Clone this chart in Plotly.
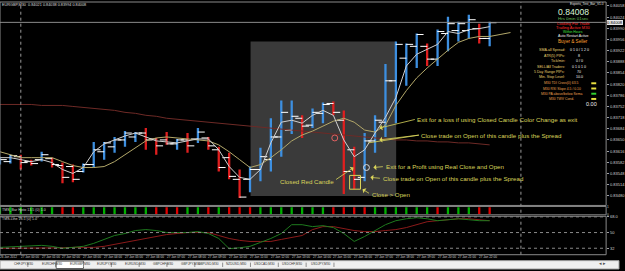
import plotly.graph_objects as go
import numpy as np

W, H = 625, 271

# ---------------- data ----------------
candle_idx = list(range(-2, 46))  # M30 bars, 0 = 27 Jan 00:00
opens = [0.83581,0.83584,0.83599,0.83584,0.83590,0.83593,0.83572,0.83569,0.83554,0.83575,
         0.83614,0.83629,0.83650,0.83659,0.83671,0.83653,0.83650,0.83638,0.83650,0.83653,
         0.83656,0.83620,0.83596,0.83530,0.83530,0.83560,0.83590,0.83659,0.83680,0.83716,
         0.83695,0.83731,0.83761,0.83710,0.83620,0.83536,0.83647,0.83704,0.83830,0.83899,
         0.83935,0.83935,0.83896,0.83974,0.83983,0.83983,0.83989,0.83959]
highs = [0.83599,0.83605,0.83605,0.83590,0.83614,0.83596,0.83581,0.83575,0.83578,0.83644,
         0.83644,0.83659,0.83677,0.83674,0.83686,0.83656,0.83674,0.83653,0.83671,0.83686,
         0.83659,0.83629,0.83611,0.83560,0.83569,0.83626,0.83716,0.83770,0.83770,0.83725,
         0.83746,0.83764,0.83767,0.83740,0.83629,0.83671,0.83725,0.83881,0.83950,0.83944,
         0.83974,0.83944,0.83986,0.84025,0.84010,0.84031,0.84004,0.84010]
lows = [0.83575,0.83578,0.83560,0.83572,0.83584,0.83566,0.83518,0.83521,0.83551,0.83566,
        0.83590,0.83611,0.83629,0.83644,0.83620,0.83605,0.83635,0.83620,0.83611,0.83641,
        0.83620,0.83554,0.83530,0.83473,0.83491,0.83524,0.83554,0.83599,0.83668,0.83656,
        0.83686,0.83701,0.83725,0.83485,0.83500,0.83524,0.83611,0.83659,0.83701,0.83815,
        0.83869,0.83875,0.83875,0.83920,0.83950,0.83959,0.83944,0.83935]
closes = [0.83590,0.83602,0.83581,0.83578,0.83605,0.83575,0.83536,0.83530,0.83575,0.83620,
          0.83641,0.83650,0.83671,0.83671,0.83650,0.83632,0.83638,0.83650,0.83632,0.83674,
          0.83632,0.83566,0.83539,0.83476,0.83560,0.83599,0.83659,0.83734,0.83722,0.83692,
          0.83734,0.83758,0.83734,0.83554,0.83530,0.83647,0.83710,0.83830,0.83941,0.83941,
          0.83971,0.83896,0.83980,0.84004,0.84004,0.84016,0.83959,0.84007]
ma_fast = [0.83596,0.83596,0.83590,0.83584,0.83590,0.83581,0.83560,0.83548,0.83566,0.83614,
           0.83638,0.83650,0.83662,0.83671,0.83659,0.83647,0.83644,0.83641,0.83647,0.83653,
           0.83653,0.83620,0.83569,0.83536,0.83530,0.83560,0.83641,0.83704,0.83710,0.83701,
           0.83725,0.83740,0.83725,0.83650,0.83599,0.83620,0.83671,0.83719,0.83779,0.83875,
           0.83911,0.83926,0.83941,0.83980,0.83974,0.83986,0.83989,0.83995]
ma_slow_idx = list(range(-2, 48))  # shifted forward 2 bars
ma_slow = [0.83614,0.83605,0.83596,0.83596,0.83596,0.83596,0.83584,0.83572,0.83566,0.83566,
           0.83569,0.83584,0.83605,0.83626,0.83647,0.83656,0.83659,0.83656,0.83653,0.83650,
           0.83647,0.83635,0.83614,0.83590,0.83566,0.83575,0.83596,0.83620,0.83647,0.83665,
           0.83677,0.83692,0.83707,0.83716,0.83704,0.83680,0.83674,0.83695,0.83755,0.83800,
           0.83839,0.83869,0.83896,0.83923,0.83947,0.83959,0.83965,0.83965,0.83971,0.83977]
ma_long = [0.83758,0.83758,0.83758,0.83758,0.83755,0.83755,0.83755,0.83752,0.83749,0.83746,
           0.83743,0.83740,0.83734,0.83731,0.83725,0.83722,0.83716,0.83713,0.83710,0.83707,
           0.83704,0.83701,0.83698,0.83695,0.83692,0.83689,0.83686,0.83683,0.83680,0.83677,
           0.83674,0.83671,0.83668,0.83665,0.83662,0.83659,0.83656,0.83653,0.83650,0.83650,
           0.83647,0.83647,0.83644,0.83644,0.83641,0.83641,0.83638,0.83635]
bar_state = [1,1,1,1,1,1,-1,-1,1,1,1,1,1,1,1,-1,-1,-1,1,1,-1,1,-1,-1,-1,
             1,1,1,1,1,1,1,-1,-1,-1,-1,1,1,1,1,1,1,-1,1,1,1,-1,-1]
osc_green = [33.0,33.6,34.2,34.2,35.3,34.2,31.9,33.0,34.2,37.6,42.1,46.6,48.9,52.3,53.4,52.3,
             50.0,50.0,50.0,51.1,48.9,43.2,31.5,32.5,34.2,38.7,43.2,48.9,59.0,59.0,56.8,57.9,
             55.7,48.9,39.8,45.5,52.3,59.0,63.6,65.8,67.0,65.8,63.6,64.7,65.8,64.7,63.6,63.6]
osc_red = [31.9,31.9,31.9,31.9,31.9,32.5,32.5,33.0,33.0,33.0,34.2,36.4,38.7,41.0,43.2,45.5,
           47.7,48.9,50.0,50.0,50.0,46.6,43.2,41.0,39.8,39.8,39.8,42.1,44.4,46.6,53.4,56.8,
           56.8,54.5,52.3,51.1,51.1,52.3,53.4,55.7,59.0,62.4,63.6,64.7,65.8,65.8,64.7,63.6]
price_ticks = [0.84058,0.84024,0.83990,0.83956,0.83922,0.83888,0.83854,0.83820,0.83786,
               0.83752,0.83718,0.83684,0.83650,0.83616,0.83582,0.83548,0.83514,0.83480]
osc_levels = [68, 50, 32]
bid = 0.84008
time_label_idx = [-2] + list(range(0, 46, 2))
time_labels = ["26 Jan 2012"] + ["27 Jan %02d:00" % h for h in range(0, 23)]
tabs = ["CHFJPY,M30", "EURCHF,M30", "EURGBP,M30", "EURJPY,M30", "EURUSD,M30", "GBPCHF,M30",
        "GBPJPY,M30", "GBPUSD,M30", "NZDUSD,M30", "USDCAD,M30", "USDCHF,M30", "USDJPY,M30"]
active_tab = "EURGBP,M30"

# ---------------- geometry helpers ----------------
X0_PX, BAR_PX = 21.0, 10.52
AX_RIGHT = 612.0
PRICE_TOP, PRICE_PER_PX = 0.84070, 0.00003
def xk(px): return (px - X0_PX) / BAR_PX
def yp(py): return PRICE_TOP - PRICE_PER_PX * py
def pxf(px): return px / W
def pyf(py): return 1 - py / H

MAIN = (0.0, 206.5)
STRIP = (207.5, 216.0)
OSC = (217.5, 256.5)
OSC_K = 1.13  # value per pixel
def osc_at(py): return 50 + (234 - py) * OSC_K

xr = [xk(0), xk(AX_RIGHT)]
FONT = "Liberation Sans, Arial, sans-serif"
YEL = "#d9d45a"

fig = go.Figure()

# candles
up = [c >= o for o, c in zip(opens, closes)]
colors = ["#3d8fe0" if u else "#e01f1f" for u in up]
fig.add_trace(go.Bar(x=candle_idx, y=[h - l for h, l in zip(highs, lows)], base=lows,
                     width=0.22, marker=dict(color=colors, line=dict(width=0)),
                     xaxis="x", yaxis="y", hoverinfo="skip"))
fig.add_trace(go.Scatter(x=[k - 0.32 for k in candle_idx], y=opens, mode="markers",
                         marker=dict(symbol="line-ew", size=5, line=dict(color="white", width=1)),
                         xaxis="x", yaxis="y", hoverinfo="skip"))
fig.add_trace(go.Scatter(x=[k + 0.32 for k in candle_idx], y=closes, mode="markers",
                         marker=dict(symbol="line-ew", size=5, line=dict(color="white", width=1)),
                         xaxis="x", yaxis="y", hoverinfo="skip"))
# moving averages
fig.add_trace(go.Scatter(x=candle_idx, y=ma_long, mode="lines",
                         line=dict(color="#6e2a26", width=1), xaxis="x", yaxis="y"))
fig.add_trace(go.Scatter(x=ma_slow_idx, y=ma_slow, mode="lines",
                         line=dict(color="#b3a86a", width=1), xaxis="x", yaxis="y"))
fig.add_trace(go.Scatter(x=candle_idx, y=ma_fast, mode="lines",
                         line=dict(color="#d0d0d0", width=1), xaxis="x", yaxis="y"))

# histogram strip
fig.add_trace(go.Bar(x=candle_idx, y=[0.8] * len(candle_idx), base=0.1, width=0.22,
                     marker=dict(color=["#00b000" if s > 0 else "#e00000" for s in bar_state],
                                 line=dict(width=0)),
                     xaxis="x2", yaxis="y2", hoverinfo="skip"))
# oscillator
fig.add_trace(go.Scatter(x=candle_idx, y=osc_red, mode="lines",
                         line=dict(color="#8b1a1a", width=1), xaxis="x3", yaxis="y3"))
fig.add_trace(go.Scatter(x=candle_idx, y=osc_green, mode="lines",
                         line=dict(color="#1e7a1e", width=1), xaxis="x3", yaxis="y3"))

shapes = []
annots = []
# grey highlight rectangle
shapes.append(dict(type="rect", xref="x", yref="y", x0=xk(253), x1=xk(400), y0=yp(197), y1=yp(40),
                   fillcolor="#3a3a3a", line=dict(width=0), layer="below"))
# bid line
shapes.append(dict(type="line", xref="paper", yref="y", x0=0, x1=pxf(AX_RIGHT), y0=bid, y1=bid,
                   line=dict(color="#8a8a8a", width=1)))
# period separators
for k in [0, 48]:
    shapes.append(dict(type="line", xref="x", yref="paper", x0=k, x1=k, y0=pyf(OSC[1]), y1=1,
                       line=dict(color="#9a9a9a", width=1, dash="dot")))
# panel frames
for top, bot in [MAIN, STRIP, OSC]:
    shapes.append(dict(type="rect", xref="paper", yref="paper", x0=0, x1=pxf(AX_RIGHT),
                       y0=pyf(bot), y1=pyf(top), line=dict(color="#8a8a8a", width=1)))
# osc level lines
for lv in osc_levels:
    shapes.append(dict(type="line", xref="paper", yref="y3", x0=0, x1=pxf(AX_RIGHT), y0=lv, y1=lv,
                       line=dict(color="#8a8a8a", width=1, dash="dot")))
# yellow box around candle
shapes.append(dict(type="rect", xref="x", yref="y", x0=xk(353), x1=xk(364), y0=yp(190), y1=yp(176),
                   line=dict(color=YEL, width=1)))
# circles
shapes.append(dict(type="circle", xref="x", yref="y", x0=xk(335), x1=xk(341), y0=yp(141), y1=yp(135),
                   line=dict(color="#e06060", width=1)))
shapes.append(dict(type="circle", xref="x", yref="y", x0=xk(367), x1=xk(373), y0=yp(171), y1=yp(165),
                   line=dict(color="#dddddd", width=1)))
# tab bar
shapes.append(dict(type="rect", xref="paper", yref="paper", x0=0, x1=1, y0=0, y1=pyf(262.5),
                   fillcolor="#efefef", line=dict(color="#a0a0a0", width=1)))
tab_w = 28.1
for i, t in enumerate(tabs):
    x0 = i * tab_w
    if t == active_tab:
        shapes.append(dict(type="rect", xref="paper", yref="paper", x0=pxf(x0 + 0.5), x1=pxf(x0 + tab_w),
                           y0=pyf(270.5), y1=pyf(263), fillcolor="white",
                           line=dict(color="#606060", width=1)))
    shapes.append(dict(type="line", xref="paper", yref="paper", x0=pxf(x0 + tab_w), x1=pxf(x0 + tab_w),
                       y0=pyf(269), y1=pyf(264.5), line=dict(color="#909090", width=1)))
    annots.append(dict(x=pxf(x0 + tab_w / 2), y=pyf(267.6), xref="paper", yref="paper", text=t,
                       showarrow=False, borderpad=0, borderwidth=0,
                       font=dict(size=3.2, color="#303030", family=FONT)))
annots.append(dict(x=pxf(612), y=pyf(267.6), xref="paper", yref="paper", text="◂ ▸",
                   showarrow=False, borderpad=0, borderwidth=0,
                   font=dict(size=4.5, color="#505050", family=FONT)))

def txt(px, py, s, size=5, color="#e0e0e0", anchor="left", **kw):
    annots.append(dict(x=pxf(px), y=pyf(py), xref="paper", yref="paper", text=s, showarrow=False,
                       xanchor=anchor, yanchor="middle", borderpad=0, borderwidth=0,
                       font=dict(size=size, color=color, family=FONT), **kw))

def arrow(hx, hy, tx, ty, head=True):
    annots.append(dict(x=pxf(hx), y=pyf(hy), xref="paper", yref="paper", ax=tx - hx, ay=ty - hy,
                       axref="pixel", ayref="pixel", text="", showarrow=True,
                       arrowhead=1 if head else 0, arrowsize=1.2, arrowwidth=0.8, arrowcolor=YEL))

# header
txt(2, 3.5, "EURGBP,M30  0.84021 0.84038 0.83994 0.84008", size=3.8, color="#dcdcdc")
# chart notes
txt(421, 119, "Exit for a loss if using Closed Candle Color Change as exit", size=6.2, color=YEL)
txt(425, 135, "Close trade on Open of this candle plus the Spread", size=6.2, color=YEL)
txt(390, 167, "Exit for a Profit using Real Close and Open", size=6.2, color=YEL)
txt(387, 179, "Close trade on Open of this candle plus the Spread", size=6.2, color=YEL)
txt(376, 195, "Close > Open", size=6.2, color=YEL)
txt(283, 182, "Closed Red Candle", size=6.2, color=YEL)
arrow(383, 128, 420, 119)
arrow(383, 140, 424, 135)
arrow(372, 143, 424, 135, head=False)
arrow(377, 168, 388, 167)
arrow(374, 178, 385, 179)
arrow(366, 190, 374, 195)
arrow(357, 168, 338, 181)

# right info panel
txt(593, 2.2, "Experts_Test_Bar_V1.0", size=3.2, color="#e0e0e0", anchor="center")
txt(579, 9.7, "0.84008", size=8.6, color="#d8f5d8", anchor="center")
txt(579, 17.2, "Hrs 0min 01sec", size=4.4, color="#66bb55", anchor="center")
txt(579, 21.9, "Looking For Trade", size=4.0, color="#ff2a2a", anchor="center")
txt(579, 26.1, "Trailing Active M30", size=4.0, color="#ff2a2a", anchor="center")
txt(579, 30.2, "Within Hours", size=3.4, color="#40e040", anchor="center")
txt(579, 35, "Auto Restart Active", size=3.6, color="#f0f0f0", anchor="center")
txt(579, 40.5, "Buyer & Seller", size=4.6, color="#ffa030", anchor="center")
rows = [("SMA-all Spread:", "0 1 0 / 1 2 0"), ("ATR(5) PIPs:", "8"), ("Tick/min:", "0 / 0"),
        ("SELL/All Traders:", "0 1 0 1 0"), ("5 Day Range PIPs:", "70"), ("Min. Stop Level:", "10.0")]
for i, (a, b) in enumerate(rows):
    yy = 49 + i * 5.5
    txt(570, yy, a, size=3.6, color="#e8d070", anchor="right")
    txt(585, yy, b, size=3.6, color="#f0f0f0", anchor="center")
flags = [("M30 TDI Cross(0) 63.5", "#e8e040"), ("M30 RSI Slope 4.5 / 0.10", "#e8e040"),
         ("M30 PA above/below Sema", "#30d030"), ("M30 TWV Cond.", "#e8e040")]
for i, (a, c) in enumerate(flags):
    yy = 82.5 + i * 5.3
    txt(567, yy, a, size=3.4, color="#e8a050", anchor="center")
    shapes.append(dict(type="rect", xref="paper", yref="paper", x0=pxf(597), x1=pxf(602),
                       y0=pyf(yy + 1), y1=pyf(yy - 1), fillcolor=c, line=dict(width=0)))
txt(597, 104, "0.00", size=5.5, color="#f0f0f0", anchor="center")

# indicator labels
txt(2, 211.5, "TMS_Bar Histo 13.5 (0) 1.0", size=3.6, color="#d0d0d0")
txt(2, 220.5, "TMS-Line 13.5 (0) 1.0", size=3.6, color="#d0d0d0")

# time labels
for k, s in zip(time_label_idx, time_labels):
    annots.append(dict(x=max(k, xr[0]), y=pyf(258.9), xref="x3", yref="paper", text=s, showarrow=False,
                       xanchor="left", yanchor="middle", borderpad=0, borderwidth=0,
                       font=dict(size=3.1, color="#d0d0d0", family=FONT)))

# bid tag on axis
annots.append(dict(x=pxf(613), y=bid, xref="paper", yref="y", text="0.84008", showarrow=False,
                   xanchor="left", yanchor="middle", bgcolor="#e8e8e8", borderwidth=0,
                   font=dict(size=4.2, color="#000000", family=FONT), borderpad=0))

axis_common = dict(showgrid=False, zeroline=False)
fig.update_layout(
    width=W, height=H, autosize=False, margin=dict(l=0, r=0, t=0, b=0),
    paper_bgcolor="black", plot_bgcolor="black", showlegend=False, barmode="overlay",
    xaxis=dict(domain=[0, pxf(AX_RIGHT)], range=xr, showticklabels=False, ticks="", anchor="y", **axis_common),
    yaxis=dict(domain=[pyf(MAIN[1]), pyf(MAIN[0])], range=[yp(MAIN[1]), yp(MAIN[0])], side="right",
               anchor="x", tickvals=price_ticks, ticktext=["%.5f" % v for v in price_ticks],
               ticks="outside", ticklen=2, tickcolor="#a0a0a0",
               tickfont=dict(size=4.0, color="#d0d0d0", family=FONT), **axis_common),
    xaxis2=dict(domain=[0, pxf(AX_RIGHT)], range=xr, showticklabels=False, anchor="y2", matches="x",
                **axis_common),
    yaxis2=dict(domain=[pyf(STRIP[1]), pyf(STRIP[0])], range=[0, 1], side="right", anchor="x2",
                tickvals=[0, 1], ticktext=["0", "1"], tickfont=dict(size=3.2, color="#d0d0d0", family=FONT),
                **axis_common),
    xaxis3=dict(domain=[0, pxf(AX_RIGHT)], range=xr, showticklabels=False, anchor="y3", matches="x",
                **axis_common),
    yaxis3=dict(domain=[pyf(OSC[1]), pyf(OSC[0])], range=[osc_at(OSC[1]), osc_at(OSC[0])], side="right",
                anchor="x3", tickvals=osc_levels, ticktext=["68.0", "50", "32"],
                ticks="outside", ticklen=2, tickcolor="#a0a0a0",
                tickfont=dict(size=4.0, color="#d0d0d0", family=FONT), **axis_common),
    shapes=shapes, annotations=annots,
)
fig.write_html("out.html")
